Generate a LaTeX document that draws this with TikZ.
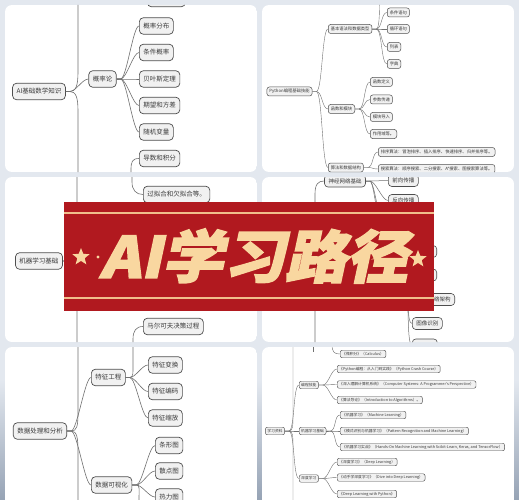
\documentclass[tikz,border=0pt]{standalone}
\usepackage{fontspec}
\usepackage{xcolor}
\usepackage{tikz}
\usetikzlibrary{shapes.geometric,positioning}
\newfontfamily\cjk{Noto Sans CJK SC}
\newfontfamily\bannerfont[FakeSlant=0.2,BoldFeatures={FakeBold=2.5}]{Noto Sans CJK SC}
\definecolor{bgblue}{RGB}{227,232,239}
\definecolor{bgdark}{RGB}{150,163,181}
\definecolor{boxfill}{RGB}{241,241,241}
\definecolor{boxline}{RGB}{78,78,78}
\definecolor{linkgray}{RGB}{112,112,112}
\definecolor{txtgray}{RGB}{58,58,58}
\definecolor{bannerred}{RGB}{177,25,31}
\definecolor{peach}{RGB}{249,215,160}
\definecolor{peachline}{RGB}{241,190,140}

\newcommand{\fan}[3][]{\foreach \kid in {#3}{\draw[link,#1] (#2.east) -- ++(4,0) to[curvy] (\kid.west);}}

\begin{document}
\begin{tikzpicture}[
    x=1pt, y=-1pt,
    bigbox/.style={draw=boxline, fill=boxfill, rounded corners=4pt, line width=0.7pt, text=txtgray, font=\cjk\fontsize{6.5}{7}\selectfont, inner xsep=4pt, inner ysep=0pt, minimum height=16.5pt},
    midbox/.style={bigbox, rounded corners=3.5pt, line width=0.6pt, font=\cjk\fontsize{5.5}{6}\selectfont, minimum height=12pt},
    smallbox/.style={bigbox, rounded corners=2.5pt, line width=0.5pt, font=\cjk\fontsize{4.3}{5}\selectfont, inner xsep=2.5pt, minimum height=9pt},
    tinybox/.style={bigbox, rounded corners=2pt, line width=0.45pt, font=\cjk\fontsize{3.8}{4}\selectfont, inner xsep=2pt, minimum height=7.5pt},
    link/.style={draw=linkgray, line width=0.6pt},
    thin link/.style={line width=0.4pt},
    curvy/.style={to path={.. controls +(6,0) and +(-6,0) .. (\tikztotarget)}},
    starmark/.style={star, star points=5, star point ratio=2.3, fill=peach, inner sep=0pt, minimum size=18pt}
]
    \useasboundingbox (0,0) rectangle (519,500);
    \fill[bgblue] (0,0) rectangle (519,500);
    \shade[top color=bgblue, bottom color=bgdark] (0,380) rectangle (519,500);

    % top left
    \begin{scope}
        \clip[rounded corners=7pt] (5,5) rectangle (257,172);
        \fill[white] (5,5) rectangle (257,172);
        \node[bigbox] (tlroot) at (39,91.5) {AI基础数学知识};
        \node[bigbox] (gailv) at (102.5,79) {概率论};
        \node[bigbox, anchor=west] (gl1) at (139,26) {概率分布};
        \node[bigbox, anchor=west] (gl2) at (139,52.5) {条件概率};
        \node[bigbox, anchor=west] (gl3) at (139,79) {贝叶斯定理};
        \node[bigbox, anchor=west] (gl4) at (139,105.5) {期望和方差};
        \node[bigbox, anchor=west] (gl5) at (139,132) {随机变量};
        \node[bigbox, anchor=west] (daoshu) at (139,158.5) {导数和积分};
        \node[bigbox, anchor=west, minimum width=38pt] (tltop) at (147,-1.5) {};
        \coordinate (tlup) at (78,-10);
        \coordinate (tldown) at (78,185);
        \coordinate (tlds) at (131,185);
        \draw[link] (tlroot.east) -- ++(4,0) to[curvy] (gailv.west);
        \draw[link] (tlroot.east) -- ++(4,0) .. controls +(6,0) and +(0,14) .. (78,72) -- (tlup);
        \draw[link] (tlroot.east) -- ++(4,0) .. controls +(6,0) and +(0,-14) .. (78,111) -- (tldown);
        \fan{gailv}{gl1,gl2,gl3,gl4,gl5}
        \draw[link] (daoshu.west) .. controls +(-7,0) and +(0,-8) .. (131,170) -- (tlds);
    \end{scope}

    % top right
    \begin{scope}
        \clip[rounded corners=7pt] (262,5) rectangle (514,172);
        \fill[white] (262,5) rectangle (514,172);
        \node[smallbox] (pyroot) at (289.5,91.5) {Python编程基础技能};
        \node[smallbox, anchor=west] (yufa) at (328,29) {基本语法和数据类型};
        \node[smallbox, anchor=west] (hanshu) at (328,109) {函数和模块};
        \node[smallbox, anchor=west] (suanfa) at (328,167.5) {算法和数据结构};
        \node[smallbox, anchor=west] (yf1) at (387,12.5) {条件语句};
        \node[smallbox, anchor=west] (yf2) at (387,29) {循环语句};
        \node[smallbox, anchor=west] (yf3) at (387,47) {列表};
        \node[smallbox, anchor=west] (yf4) at (387,64) {字典};
        \node[smallbox, anchor=west] (hs1) at (370,82) {函数定义};
        \node[smallbox, anchor=west] (hs2) at (370,99.5) {参数传递};
        \node[smallbox, anchor=west] (hs3) at (370,117) {模块导入};
        \node[smallbox, anchor=west] (hs4) at (370,134) {作用域等。};
        \node[smallbox, anchor=west] (sf1) at (378,152) {排序算法：冒泡排序、插入排序、快速排序、归并排序等。};
        \node[smallbox, anchor=west] (sf2) at (378,169) {搜索算法：顺序搜索、二分搜索、A*搜索、图搜索算法等。};
        \coordinate (trup) at (383,-25);
        \fan[thin link]{pyroot}{yufa,hanshu,suanfa}
        \fan[thin link]{yufa}{yf1,yf2,yf3,yf4}
        \draw[link, thin link] (yufa.east) -- ++(4,0) to[curvy] (trup);
        \fan[thin link]{hanshu}{hs1,hs2,hs3,hs4}
        \fan[thin link]{suanfa}{sf1,sf2}
    \end{scope}

    % middle left
    \begin{scope}
        \clip[rounded corners=7pt] (5,177) rectangle (257,342);
        \fill[white] (5,177) rectangle (257,342);
        \node[bigbox] (mlroot) at (39,261) {机器学习基础};
        \node[bigbox, anchor=west] (guonihe) at (143,194.5) {过拟合和欠拟合等。};
        \node[bigbox, anchor=west] (markov) at (143,326.5) {马尔可夫决策过程};
        \coordinate (mlup) at (77,165);
        \coordinate (mldown) at (77,355);
        \coordinate (mlgf) at (132,165);
        \coordinate (mlmk) at (133,355);
        \draw[link] (mlroot.east) -- ++(4,0) .. controls +(5,0) and +(0,14) .. (77,240) -- (mlup);
        \draw[link] (mlroot.east) -- ++(4,0) .. controls +(5,0) and +(0,-14) .. (77,282) -- (mldown);
        \draw[link] (guonihe.west) .. controls +(-7,0) and +(0,8) .. (132,182) -- (mlgf);
        \draw[link] (markov.west) .. controls +(-7,0) and +(0,-8) .. (133,339) -- (mlmk);
    \end{scope}

    % middle right
    \begin{scope}
        \clip[rounded corners=7pt] (262,177) rectangle (514,342);
        \fill[white] (262,177) rectangle (514,342);
        \node[midbox] (nnjc) at (345,181) {神经网络基础};
        \node[midbox, anchor=west] (qianxiang) at (388,180.5) {前向传播};
        \node[midbox, anchor=west] (fanxiang) at (388,200.5) {反向传播};
        \node[midbox, anchor=east, minimum width=48pt] (mrh1) at (437,251.5) {};
        \node[midbox, anchor=east, minimum width=48pt] (mrh2) at (437,275) {};
        \node[midbox, minimum width=40pt] (mrhp) at (380,290) {};
        \node[midbox, anchor=east] (jiagou) at (455,299.5) {神经网络架构};
        \node[midbox, anchor=west] (tuxiang) at (412,323.5) {图像识别};
        \node[midbox, anchor=west, minimum width=25pt] (mrbot) at (412,345) {};
        \coordinate (mrdown) at (315,360);
        \draw[link] (nnjc.west) .. controls +(-6,0) and +(0,-10) .. (315,194) -- (mrdown);
        \fan[line width=0.5pt]{nnjc}{qianxiang,fanxiang,mrh1,mrh2}
        \fan[line width=0.5pt]{mrhp}{jiagou,tuxiang,mrbot}
    \end{scope}

    % bottom left
    \begin{scope}
        \clip[rounded corners=7pt] (5,347) rectangle (257,510);
        \fill[white] (5,347) rectangle (257,510);
        \node[bigbox] (blroot) at (40,431) {数据处理和分析};
        \node[bigbox, anchor=west] (tezheng) at (91,377.5) {特征工程};
        \node[bigbox, anchor=west] (keshihua) at (91,485) {数据可视化};
        \node[bigbox, anchor=west] (tz1) at (148,365) {特征变换};
        \node[bigbox, anchor=west] (tz2) at (148,391.5) {特征编码};
        \node[bigbox, anchor=west] (tz3) at (148,418) {特征缩放};
        \node[bigbox, anchor=west] (ks1) at (155,445.5) {条形图};
        \node[bigbox, anchor=west] (ks2) at (155,471) {散点图};
        \node[bigbox, anchor=west] (ks3) at (155,497) {热力图};
        \coordinate (blup) at (78,330);
        \coordinate (bldown) at (78,530);
        \coordinate (tzup) at (133,330);
        \coordinate (ksdown) at (139,530);
        \draw[link] (blroot.east) -- ++(4,0) .. controls +(6,0) and +(0,14) .. (78,412) -- (blup);
        \draw[link] (blroot.east) -- ++(4,0) .. controls +(6,0) and +(0,-14) .. (78,452) -- (bldown);
        \fan{blroot}{tezheng,keshihua}
        \fan{tezheng}{tz1,tz2,tz3}
        \fan{keshihua}{ks1,ks2,ks3}
        \draw[link] (tezheng.east) -- ++(4,0) .. controls +(4,0) and +(0,8) .. (133,364) -- (tzup);
        \draw[link] (keshihua.east) -- ++(4,0) .. controls +(4,0) and +(0,-8) .. (139,498) -- (ksdown);
    \end{scope}

    % bottom right
    \begin{scope}
        \clip[rounded corners=7pt] (262,347) rectangle (514,510);
        \fill[white] (262,347) rectangle (514,510);
        \node[tinybox] (ziliao) at (275,431) {学习资料};
        \node[tinybox, anchor=west] (biancheng) at (299,385) {编程技能};
        \node[tinybox, anchor=west] (jiqi) at (299,431) {机器学习基础};
        \node[tinybox, anchor=west] (shendu) at (299,478.5) {深度学习};
        \node[tinybox, anchor=west] (weijifen) at (340,354) {《微积分》（Calculus）};
        \node[tinybox, anchor=west] (bc1) at (337,369) {《Python编程：从入门到实践》（Python Crash Course）};
        \node[tinybox, anchor=west] (bc2) at (337,384.5) {《深入理解计算机系统》（Computer Systems: A Programmer's Perspective）};
        \node[tinybox, anchor=west] (bc3) at (337,400) {《算法导论》（Introduction to Algorithms）。};
        \node[tinybox, anchor=west] (jq1) at (340,415) {《机器学习》（Machine Learning）};
        \node[tinybox, anchor=west] (jq2) at (340,431) {《模式识别与机器学习》（Pattern Recognition and Machine Learning）};
        \node[tinybox, anchor=west] (jq3) at (340,447) {《机器学习实战》（Hands-On Machine Learning with Scikit-Learn, Keras, and TensorFlow）};
        \node[tinybox, anchor=west] (sd1) at (337,462) {《深度学习》（Deep Learning）};
        \node[tinybox, anchor=west] (sd2) at (337,477.5) {《动手学深度学习》（Dive into Deep Learning）};
        \node[tinybox, anchor=west] (sd3) at (337,494) {《Deep Learning with Python》};
        \coordinate (brup) at (293,330);
        \coordinate (brdown) at (293,530);
        \coordinate (wjup) at (332,330);
        \coordinate (mrline) at (313,330);
        \draw[link, thin link] (ziliao.east) -- ++(4,0) .. controls +(4,0) and +(0,10) .. (293,416) -- (brup);
        \draw[link, thin link] (ziliao.east) -- ++(4,0) .. controls +(4,0) and +(0,-10) .. (293,446) -- (brdown);
        \draw[link, thin link] (weijifen.west) .. controls +(-6,0) and +(0,8) .. (332,344) -- (wjup);
        \draw[link, thin link] (mrline) -- (313,352);
        \fan[thin link]{ziliao}{biancheng,jiqi,shendu}
        \fan[thin link]{biancheng}{bc1,bc2,bc3}
        \fan[thin link]{jiqi}{jq1,jq2,jq3}
        \fan[thin link]{shendu}{sd1,sd2,sd3}
    \end{scope}

    % banner
    \fill[bannerred] (64,202) rectangle (434,311);
    \draw[peachline, line width=1.2pt] (64,213) -- (434,213);
    \draw[peachline, line width=1.2pt] (64,298) -- (434,298);
    \node[font=\bannerfont\bfseries\fontsize{57}{57}\selectfont, text=peach, inner sep=0pt, xscale=1.08] (title) at (254,256) {AI学习路径};
    \node[starmark] (lstar) at (81,257) {};
    \node[starmark] (rstar) at (418,259) {};
    \fill[peach] (98,257) circle (1.6pt);
    \fill[peach] (404,258) circle (1.6pt);
\end{tikzpicture}
\end{document}
